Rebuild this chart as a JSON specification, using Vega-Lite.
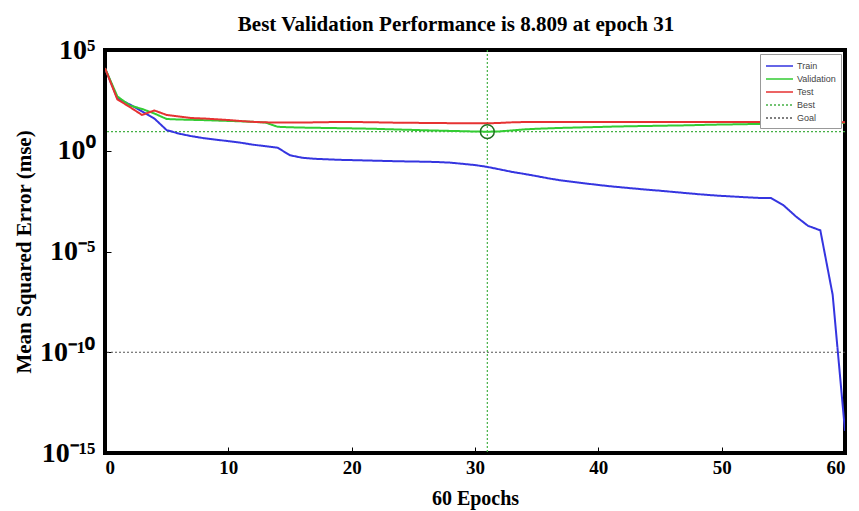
{
  "$schema": "https://vega.github.io/schema/vega-lite/v6.json",
  "width": 740,
  "height": 403,
  "autosize": {"type": "none"},
  "padding": {"left": 105, "top": 50, "right": 14, "bottom": 58},
  "background": "white",
  "title": {
    "text": "Best Validation Performance is 8.809 at epoch 31",
    "font": "Liberation Serif",
    "fontSize": 21,
    "fontWeight": "bold",
    "color": "black",
    "offset": 1,
    "dx": -19
  },
  "config": {
    "view": {"stroke": "black", "strokeWidth": 4, "fill": "white"},
    "axis": {
      "grid": false,
      "domain": false,
      "tickColor": "black",
      "tickSize": -6,
      "tickWidth": 1,
      "labelColor": "black",
      "titleColor": "black",
      "labelFont": "Liberation Serif",
      "titleFont": "Liberation Serif",
      "labelFontWeight": "bold",
      "titleFontWeight": "bold"
    },
    "legend": {
      "orient": "top-right",
      "offset": 4,
      "symbolSize": 144,
      "symbolStrokeWidth": 1.5,
      "labelFont": "Liberation Sans",
      "labelFontSize": 9,
      "labelColor": "#444",
      "labelOffset": 18,
      "rowPadding": 1,
      "padding": 5,
      "strokeColor": "#999",
      "fillColor": "white",
      "cornerRadius": 0
    }
  },
  "encoding": {
    "x": {
      "field": "epoch",
      "type": "quantitative",
      "scale": {"domain": [0, 60], "nice": false, "zero": false},
      "axis": {
        "values": [0, 10, 20, 30, 40, 50, 60],
        "title": "60 Epochs",
        "labelFontSize": 19,
        "titleFontSize": 20,
        "labelPadding": 11,
        "titlePadding": 11
      }
    },
    "y": {
      "field": "mse",
      "type": "quantitative",
      "scale": {"type": "log", "domain": [1e-15, 100000], "nice": false},
      "axis": {
        "values": [1e-15, 1e-10, 1e-5, 1, 100000],
        "labelExpr": "datum.value > 10000 ? '10⁵' : datum.value > 0.1 ? '10⁰' : datum.value > 0.000001 ? '10⁻⁵' : datum.value > 1e-11 ? '10⁻¹⁰' : '10⁻¹⁵'",
        "title": "Mean Squared Error (mse)",
        "labelFontSize": 28,
        "titleFontSize": 21,
        "labelPadding": 16,
        "titlePadding": 5
      }
    }
  },
  "layer": [
    {
      "data": {"values": [{"series": "Goal", "mse": 1e-10}]},
      "mark": {"type": "rule", "strokeWidth": 1.2},
      "encoding": {
        "x": null,
        "color": {"field": "series", "type": "nominal", "legend": {"title": null, "symbolType": "M-1,0H3.5"}, "scale": {"domain": ["Train", "Validation", "Test", "Best", "Goal"], "range": ["#3535e0", "#33cc33", "#e63232", "#44b044", "#555555"]}},
        "strokeDash": {"field": "series", "type": "nominal", "legend": {"title": null, "symbolType": "M-1,0H3.5"}, "scale": {"domain": ["Train", "Validation", "Test", "Best", "Goal"], "range": [[1, 0], [1, 0], [1, 0], [2, 2], [2, 2]]}}
      }
    },
    {
      "data": {"values": [{"series": "Best", "mse": 8.809}]},
      "mark": {"type": "rule", "strokeWidth": 1.2},
      "encoding": {
        "x": null,
        "color": {"field": "series", "type": "nominal"},
        "strokeDash": {"field": "series", "type": "nominal"}
      }
    },
    {
      "data": {"values": [{"series": "Best", "epoch": 31}]},
      "mark": {"type": "rule", "strokeWidth": 1.2},
      "encoding": {
        "y": null,
        "color": {"field": "series", "type": "nominal"},
        "strokeDash": {"field": "series", "type": "nominal"}
      }
    },
    {
      "data": {"values": [
        {"epoch":0,"mse":12590,"series":"Train"},{"epoch":1,"mse":398.1,"series":"Train"},{"epoch":2,"mse":199.5,"series":"Train"},{"epoch":3,"mse":89.1,"series":"Train"},{"epoch":4,"mse":39.8,"series":"Train"},{"epoch":5,"mse":10.59,"series":"Train"},{"epoch":6,"mse":7.08,"series":"Train"},{"epoch":7,"mse":5.31,"series":"Train"},{"epoch":8,"mse":4.22,"series":"Train"},{"epoch":9,"mse":3.55,"series":"Train"},{"epoch":10,"mse":2.99,"series":"Train"},{"epoch":11,"mse":2.51,"series":"Train"},{"epoch":12,"mse":2.0,"series":"Train"},{"epoch":13,"mse":1.68,"series":"Train"},{"epoch":14,"mse":1.41,"series":"Train"},{"epoch":15,"mse":0.596,"series":"Train"},{"epoch":16,"mse":0.447,"series":"Train"},{"epoch":17,"mse":0.398,"series":"Train"},{"epoch":18,"mse":0.376,"series":"Train"},{"epoch":19,"mse":0.355,"series":"Train"},{"epoch":20,"mse":0.343,"series":"Train"},{"epoch":21,"mse":0.331,"series":"Train"},{"epoch":22,"mse":0.32,"series":"Train"},{"epoch":23,"mse":0.309,"series":"Train"},{"epoch":24,"mse":0.299,"series":"Train"},{"epoch":25,"mse":0.292,"series":"Train"},{"epoch":26,"mse":0.285,"series":"Train"},{"epoch":27,"mse":0.275,"series":"Train"},{"epoch":28,"mse":0.257,"series":"Train"},{"epoch":29,"mse":0.224,"series":"Train"},{"epoch":30,"mse":0.195,"series":"Train"},{"epoch":31,"mse":0.158,"series":"Train"},{"epoch":32,"mse":0.119,"series":"Train"},{"epoch":33,"mse":0.0891,"series":"Train"},{"epoch":34,"mse":0.0708,"series":"Train"},{"epoch":35,"mse":0.055,"series":"Train"},{"epoch":36,"mse":0.0422,"series":"Train"},{"epoch":37,"mse":0.0335,"series":"Train"},{"epoch":38,"mse":0.0282,"series":"Train"},{"epoch":39,"mse":0.0237,"series":"Train"},{"epoch":40,"mse":0.02,"series":"Train"},{"epoch":41,"mse":0.0172,"series":"Train"},{"epoch":42,"mse":0.015,"series":"Train"},{"epoch":43,"mse":0.0132,"series":"Train"},{"epoch":44,"mse":0.0116,"series":"Train"},{"epoch":45,"mse":0.0104,"series":"Train"},{"epoch":46,"mse":0.00912,"series":"Train"},{"epoch":47,"mse":0.00804,"series":"Train"},{"epoch":48,"mse":0.00708,"series":"Train"},{"epoch":49,"mse":0.00631,"series":"Train"},{"epoch":50,"mse":0.00575,"series":"Train"},{"epoch":51,"mse":0.00531,"series":"Train"},{"epoch":52,"mse":0.0049,"series":"Train"},{"epoch":53,"mse":0.00457,"series":"Train"},{"epoch":54,"mse":0.00447,"series":"Train"},{"epoch":55,"mse":0.002,"series":"Train"},{"epoch":56,"mse":0.000562,"series":"Train"},{"epoch":57,"mse":0.000188,"series":"Train"},{"epoch":58,"mse":0.000112,"series":"Train"},{"epoch":59,"mse":7.08e-8,"series":"Train"},{"epoch":60,"mse":1.26e-14,"series":"Train"},
        {"epoch":0,"mse":12590,"series":"Validation"},{"epoch":1,"mse":501,"series":"Validation"},{"epoch":2,"mse":177.8,"series":"Validation"},{"epoch":3,"mse":118.9,"series":"Validation"},{"epoch":4,"mse":70.8,"series":"Validation"},{"epoch":5,"mse":37.6,"series":"Validation"},{"epoch":6,"mse":35.5,"series":"Validation"},{"epoch":7,"mse":34.3,"series":"Validation"},{"epoch":8,"mse":33.1,"series":"Validation"},{"epoch":9,"mse":31.6,"series":"Validation"},{"epoch":10,"mse":30.2,"series":"Validation"},{"epoch":11,"mse":28.8,"series":"Validation"},{"epoch":12,"mse":27.2,"series":"Validation"},{"epoch":13,"mse":25.1,"series":"Validation"},{"epoch":14,"mse":15.5,"series":"Validation"},{"epoch":15,"mse":14.6,"series":"Validation"},{"epoch":16,"mse":14.1,"series":"Validation"},{"epoch":17,"mse":13.8,"series":"Validation"},{"epoch":18,"mse":13.5,"series":"Validation"},{"epoch":19,"mse":13.2,"series":"Validation"},{"epoch":20,"mse":12.9,"series":"Validation"},{"epoch":21,"mse":12.6,"series":"Validation"},{"epoch":22,"mse":12.2,"series":"Validation"},{"epoch":23,"mse":11.7,"series":"Validation"},{"epoch":24,"mse":11.2,"series":"Validation"},{"epoch":25,"mse":10.8,"series":"Validation"},{"epoch":26,"mse":10.35,"series":"Validation"},{"epoch":27,"mse":10.0,"series":"Validation"},{"epoch":28,"mse":9.66,"series":"Validation"},{"epoch":29,"mse":9.33,"series":"Validation"},{"epoch":30,"mse":9.02,"series":"Validation"},{"epoch":31,"mse":8.809,"series":"Validation"},{"epoch":32,"mse":9.12,"series":"Validation"},{"epoch":33,"mse":10.23,"series":"Validation"},{"epoch":34,"mse":11.5,"series":"Validation"},{"epoch":35,"mse":12.3,"series":"Validation"},{"epoch":36,"mse":13.0,"series":"Validation"},{"epoch":37,"mse":13.6,"series":"Validation"},{"epoch":38,"mse":14.1,"series":"Validation"},{"epoch":39,"mse":14.6,"series":"Validation"},{"epoch":40,"mse":15.1,"series":"Validation"},{"epoch":41,"mse":15.7,"series":"Validation"},{"epoch":42,"mse":16.2,"series":"Validation"},{"epoch":43,"mse":16.6,"series":"Validation"},{"epoch":44,"mse":17.0,"series":"Validation"},{"epoch":45,"mse":17.4,"series":"Validation"},{"epoch":46,"mse":17.8,"series":"Validation"},{"epoch":47,"mse":18.2,"series":"Validation"},{"epoch":48,"mse":18.8,"series":"Validation"},{"epoch":49,"mse":19.5,"series":"Validation"},{"epoch":50,"mse":20.0,"series":"Validation"},{"epoch":51,"mse":20.4,"series":"Validation"},{"epoch":52,"mse":20.9,"series":"Validation"},{"epoch":53,"mse":21.4,"series":"Validation"},{"epoch":54,"mse":21.9,"series":"Validation"},{"epoch":55,"mse":22.4,"series":"Validation"},{"epoch":56,"mse":22.9,"series":"Validation"},{"epoch":57,"mse":23.4,"series":"Validation"},{"epoch":58,"mse":23.7,"series":"Validation"},{"epoch":59,"mse":24.0,"series":"Validation"},{"epoch":60,"mse":24.3,"series":"Validation"},
        {"epoch":0,"mse":12590,"series":"Test"},{"epoch":1,"mse":354.8,"series":"Test"},{"epoch":2,"mse":149.6,"series":"Test"},{"epoch":3,"mse":59.6,"series":"Test"},{"epoch":4,"mse":100,"series":"Test"},{"epoch":5,"mse":59.6,"series":"Test"},{"epoch":6,"mse":50.1,"series":"Test"},{"epoch":7,"mse":42.2,"series":"Test"},{"epoch":8,"mse":39.8,"series":"Test"},{"epoch":9,"mse":36.7,"series":"Test"},{"epoch":10,"mse":33.5,"series":"Test"},{"epoch":11,"mse":29.9,"series":"Test"},{"epoch":12,"mse":27.2,"series":"Test"},{"epoch":13,"mse":25.7,"series":"Test"},{"epoch":14,"mse":25.1,"series":"Test"},{"epoch":15,"mse":25.1,"series":"Test"},{"epoch":16,"mse":25.1,"series":"Test"},{"epoch":17,"mse":25.7,"series":"Test"},{"epoch":18,"mse":26.3,"series":"Test"},{"epoch":19,"mse":26.6,"series":"Test"},{"epoch":20,"mse":26.6,"series":"Test"},{"epoch":21,"mse":26.3,"series":"Test"},{"epoch":22,"mse":25.7,"series":"Test"},{"epoch":23,"mse":25.1,"series":"Test"},{"epoch":24,"mse":24.5,"series":"Test"},{"epoch":25,"mse":24.3,"series":"Test"},{"epoch":26,"mse":24.0,"series":"Test"},{"epoch":27,"mse":23.7,"series":"Test"},{"epoch":28,"mse":23.4,"series":"Test"},{"epoch":29,"mse":23.2,"series":"Test"},{"epoch":30,"mse":22.9,"series":"Test"},{"epoch":31,"mse":22.9,"series":"Test"},{"epoch":32,"mse":24.0,"series":"Test"},{"epoch":33,"mse":25.7,"series":"Test"},{"epoch":34,"mse":26.6,"series":"Test"},{"epoch":35,"mse":26.9,"series":"Test"},{"epoch":36,"mse":27.0,"series":"Test"},{"epoch":37,"mse":26.9,"series":"Test"},{"epoch":38,"mse":27.1,"series":"Test"},{"epoch":39,"mse":27.0,"series":"Test"},{"epoch":40,"mse":26.9,"series":"Test"},{"epoch":41,"mse":26.8,"series":"Test"},{"epoch":42,"mse":26.9,"series":"Test"},{"epoch":43,"mse":27.0,"series":"Test"},{"epoch":44,"mse":26.9,"series":"Test"},{"epoch":45,"mse":26.8,"series":"Test"},{"epoch":46,"mse":26.7,"series":"Test"},{"epoch":47,"mse":26.8,"series":"Test"},{"epoch":48,"mse":26.9,"series":"Test"},{"epoch":49,"mse":26.8,"series":"Test"},{"epoch":50,"mse":26.7,"series":"Test"},{"epoch":51,"mse":26.6,"series":"Test"},{"epoch":52,"mse":26.7,"series":"Test"},{"epoch":53,"mse":26.6,"series":"Test"},{"epoch":54,"mse":26.5,"series":"Test"},{"epoch":55,"mse":26.6,"series":"Test"},{"epoch":56,"mse":26.5,"series":"Test"},{"epoch":57,"mse":26.4,"series":"Test"},{"epoch":58,"mse":26.5,"series":"Test"},{"epoch":59,"mse":26.4,"series":"Test"},{"epoch":60,"mse":26.3,"series":"Test"}
      ]},
      "mark": {"type": "line", "strokeWidth": 2, "clip": true},
      "encoding": {
        "color": {"field": "series", "type": "nominal"},
        "strokeDash": {"field": "series", "type": "nominal"}
      }
    },
    {
      "data": {"values": [{"epoch": 31, "mse": 8.809}]},
      "mark": {"type": "point", "shape": "circle", "filled": false, "stroke": "#1f6f1f", "strokeWidth": 1.5, "size": 190, "opacity": 1},
      "encoding": {}
    }
  ]
}
